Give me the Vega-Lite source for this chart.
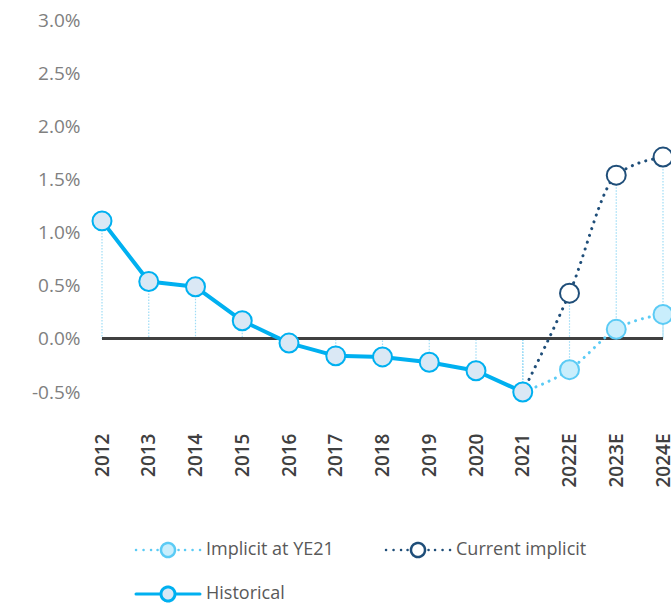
{
  "$schema": "https://vega.github.io/schema/vega-lite/v6.json",
  "width": 561,
  "height": 372,
  "autosize": {"type": "none"},
  "padding": {"left": 102, "top": 20, "right": 8, "bottom": 212},
  "background": "#ffffff",
  "config": {"view": {"stroke": null}, "font": "Open Sans"},
  "data": {
    "values": [
      {"series": "Historical", "year": "2012", "value": 0.0111},
      {"series": "Historical", "year": "2013", "value": 0.0054},
      {"series": "Historical", "year": "2014", "value": 0.0049},
      {"series": "Historical", "year": "2015", "value": 0.0017},
      {"series": "Historical", "year": "2016", "value": -0.0004},
      {"series": "Historical", "year": "2017", "value": -0.0016},
      {"series": "Historical", "year": "2018", "value": -0.0017},
      {"series": "Historical", "year": "2019", "value": -0.0022},
      {"series": "Historical", "year": "2020", "value": -0.0030},
      {"series": "Historical", "year": "2021", "value": -0.0050},
      {"series": "Implicit at YE21", "year": "2021", "value": -0.0050},
      {"series": "Implicit at YE21", "year": "2022E", "value": -0.0029},
      {"series": "Implicit at YE21", "year": "2023E", "value": 0.0009},
      {"series": "Implicit at YE21", "year": "2024E", "value": 0.0023},
      {"series": "Current implicit", "year": "2021", "value": -0.0050},
      {"series": "Current implicit", "year": "2022E", "value": 0.0043},
      {"series": "Current implicit", "year": "2023E", "value": 0.0154},
      {"series": "Current implicit", "year": "2024E", "value": 0.0171}
    ]
  },
  "encoding": {
    "x": {
      "field": "year",
      "type": "ordinal",
      "scale": {"type": "point", "padding": 0, "domain": ["2012","2013","2014","2015","2016","2017","2018","2019","2020","2021","2022E","2023E","2024E"]},
      "axis": {
        "title": null,
        "domain": false,
        "ticks": false,
        "tickSize": 0,
        "labelAngle": 270,
        "labelPadding": 41,
        "labelFontSize": 19,
        "labelFontWeight": 600,
        "labelColor": "#404040",
        "labelOverlap": false,
        "labelBound": false
      }
    },
    "y": {
      "field": "value",
      "type": "quantitative",
      "scale": {"domain": [-0.005, 0.03], "nice": false, "zero": false},
      "axis": {
        "title": null,
        "domain": false,
        "ticks": false,
        "tickSize": 0,
        "grid": false,
        "values": [-0.005, 0, 0.005, 0.01, 0.015, 0.02, 0.025, 0.03],
        "format": ".1%",
        "labelExpr": "replace(datum.label, '−', '-')",
        "labelPadding": 22,
        "labelFontSize": 19,
        "labelColor": "#808080",
        "labelOverlap": false
      }
    },
    "stroke": {
      "field": "series",
      "type": "nominal",
      "scale": {"domain": ["Implicit at YE21", "Current implicit", "Historical"], "range": ["#5bcbf5", "#1f4e79", "#00b0f0"]},
      "legend": null
    }
  },
  "layer": [
    {
      "mark": {"type": "rule", "color": "#9edcf6", "strokeWidth": 1.2, "strokeDash": [1.5, 1.5]},
      "encoding": {"y2": {"datum": 0}, "stroke": null}
    },
    {
      "mark": {"type": "rule", "color": "#404040", "strokeWidth": 2},
      "encoding": {"x": null, "y": {"datum": 0}, "stroke": null}
    },
    {
      "transform": [{"filter": "datum.series !== 'Historical'"}],
      "mark": {"type": "line", "interpolate": "monotone", "strokeCap": "round", "strokeWidth": 3, "strokeDash": [0.1, 7]},
      "encoding": {
        "stroke": {
          "field": "series",
          "type": "nominal",
          "legend": {
            "orient": "none",
            "legendX": 57,
            "legendY": 521,
            "title": null,
            "direction": "horizontal",
            "columns": 2,
            "columnPadding": 47,
            "rowPadding": 19,
            "symbolSize": 400,
            "symbolDash": [1, 0],
            "labelOffset": 29,
            "labelFontSize": 18,
            "labelColor": "#595959",
            "labelFont": "Open Sans",
            "encode": {
              "symbols": {
                "update": {
                  "shape": {"signal": "datum.value === 'Historical' ? 'M-3.2,0H-0.7M0.7,0H3.2M0.7,0A0.7,0.7 0 1,1 -0.7,0A0.7,0.7 0 1,1 0.7,0' : 'M-3.2,0h0.01M-2.45,0h0.01M-1.7,0h0.01M-1.05,0h0.01M1.05,0h0.01M1.7,0h0.01M2.45,0h0.01M3.2,0h0.01M0.7,0A0.7,0.7 0 1,1 -0.7,0A0.7,0.7 0 1,1 0.7,0'"},
                  "fill": {"signal": "datum.value === 'Historical' ? '#dae8f5' : datum.value === 'Current implicit' ? '#ffffff' : '#c9eefc'"},
                  "strokeWidth": {"signal": "datum.value === 'Historical' ? 3 : 2.5"},
                  "strokeCap": {"value": "round"},
                  "strokeDash": {"value": [1, 0]},
                  "opacity": {"value": 1}
                }
              }
            }
          }
        }
      }
    },
    {
      "transform": [{"filter": "datum.series === 'Historical'"}],
      "mark": {"type": "line", "interpolate": "linear", "strokeCap": "round", "strokeJoin": "round", "strokeWidth": 4}
    },
    {
      "transform": [{"filter": "datum.series === 'Historical' || datum.year !== '2021'"}],
      "mark": {"type": "point", "shape": "circle", "size": 360, "strokeWidth": 2, "opacity": 1, "filled": false},
      "encoding": {
        "fill": {
          "field": "series",
          "type": "nominal",
          "scale": {"domain": ["Implicit at YE21", "Current implicit", "Historical"], "range": ["#c9eefc", "#ffffff", "#dae8f5"]},
          "legend": null
        }
      }
    }
  ]
}
